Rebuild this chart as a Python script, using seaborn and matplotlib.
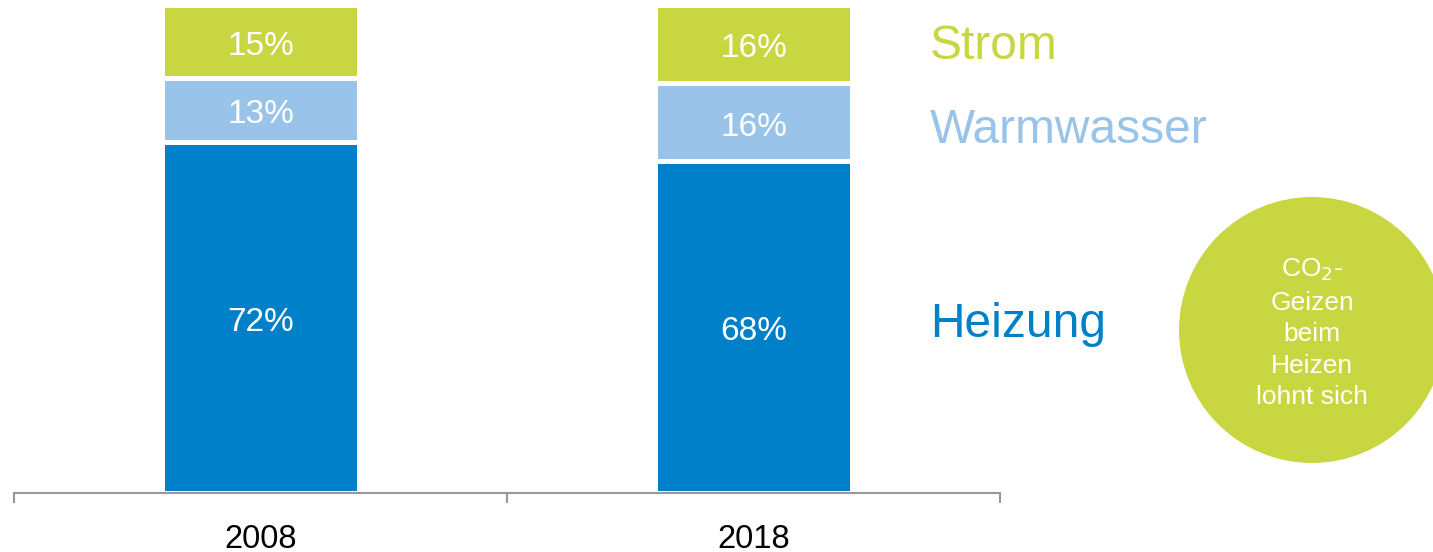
import seaborn as sns
import matplotlib.pyplot as plt
import pandas as pd
from matplotlib.patches import Ellipse

# --- data ---
years = ["2008", "2018"]
categories = ["Heizung", "Warmwasser", "Strom"]
heizung = [72, 68]
warmwasser = [13, 16]
strom = [15, 16]

colors = {"Heizung": "#0080C9", "Warmwasser": "#9AC3EA", "Strom": "#C8D641"}

df = pd.DataFrame({"Jahr": years, "Heizung": heizung,
                   "Warmwasser": warmwasser, "Strom": strom})
df["cum_heizung"] = df["Heizung"]
df["cum_warm"] = df["Heizung"] + df["Warmwasser"]
df["cum_strom"] = df["cum_warm"] + df["Strom"]

sns.set_style("white")
plt.rcParams["font.family"] = ["Liberation Sans", "DejaVu Sans"]

fig = plt.figure(figsize=(14.33, 5.52), dpi=100)
ax = fig.add_axes([14 / 1433, 59 / 552, 986 / 1433, 488 / 552])

# stacked bars drawn as overlapping cumulative totals, top segment first
for col, cat in [("cum_strom", "Strom"), ("cum_warm", "Warmwasser"), ("cum_heizung", "Heizung")]:
    sns.barplot(data=df, x="Jahr", y=col, color=colors[cat], width=0.40,
                edgecolor="white", linewidth=3.6, saturation=1, ax=ax)

# percentage labels in the segments
for i in range(len(years)):
    mids = [heizung[i] / 2,
            heizung[i] + warmwasser[i] / 2,
            heizung[i] + warmwasser[i] + strom[i] / 2]
    vals = [heizung[i], warmwasser[i], strom[i]]
    for m, v in zip(mids, vals):
        ax.text(i, m - 1, f"{v}%", ha="center", va="center", color="white", fontsize=24)

# category names on the right, aligned with the 2018 segments
x_lab = 1.358
ax.text(x_lab, heizung[1] / 2 + 0.6, "Heizung", color=colors["Heizung"], fontsize=34.5,
        va="center", ha="left", clip_on=False)
ax.text(x_lab, heizung[1] + warmwasser[1] / 2 - 1.8, "Warmwasser", color=colors["Warmwasser"],
        fontsize=34.5, va="center", ha="left", clip_on=False)
ax.text(x_lab, 100 - strom[1] / 2 - 0.6, "Strom", color=colors["Strom"], fontsize=34.5,
        va="center", ha="left", clip_on=False)

ax.set_xlim(-0.5, 1.5)
ax.set_ylim(0, 100)
ax.set_xlabel("")
ax.set_ylabel("")
ax.set_yticks([])

for s in ["top", "right", "left"]:
    ax.spines[s].set_visible(False)
ax.spines["bottom"].set_color("#999999")
ax.spines["bottom"].set_linewidth(1.5)

ax.set_xticks([-0.5, 0.5, 1.5])
ax.set_xticklabels(["", "", ""])
ax.set_xticks([0, 1], minor=True)
ax.set_xticklabels(years, minor=True, fontsize=23.5, color="black")
ax.tick_params(axis="x", which="major", direction="out", length=7.5, width=1.5,
               color="#999999", bottom=True)
ax.tick_params(axis="x", which="minor", length=0, pad=22)

# green circle with note
circ = Ellipse((1312 / 1433, 1 - 330 / 552), 266 / 1433, 266 / 552,
               transform=fig.transFigure, color=colors["Strom"], lw=0)
fig.add_artist(circ)
fig.text(1312 / 1433, 1 - 333 / 552,
         "CO$_2$-\nGeizen\nbeim\nHeizen\nlohnt sich",
         ha="center", va="center", color="white", fontsize=19, linespacing=1.4)

fig.savefig("out.png", dpi=100)
